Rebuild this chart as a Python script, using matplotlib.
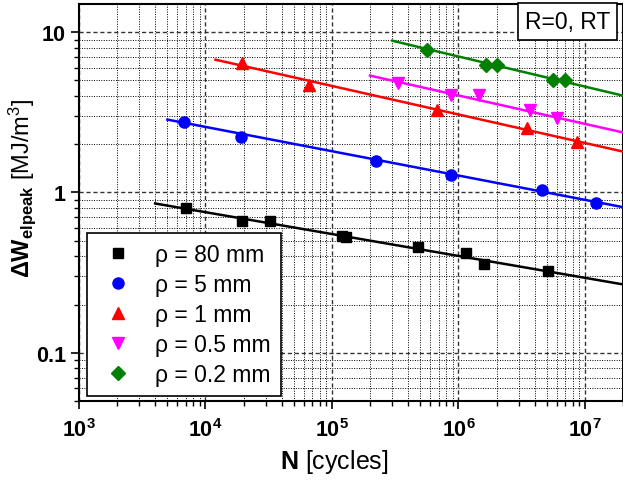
import matplotlib
matplotlib.use("Agg")
import matplotlib.pyplot as plt
from matplotlib.ticker import LogLocator, NullFormatter

plt.rcParams["font.family"] = "Liberation Sans"
plt.rcParams["mathtext.fontset"] = "custom"
plt.rcParams["mathtext.rm"] = "Liberation Sans"
plt.rcParams["mathtext.it"] = "Liberation Sans:italic"
plt.rcParams["mathtext.bf"] = "Liberation Sans:bold"

# --- data (N in cycles, dW in MJ/m^3) ---
labels = ["ρ = 80 mm", "ρ = 5 mm", "ρ = 1 mm", "ρ = 0.5 mm", "ρ = 0.2 mm"]

n_80 = [7.0e3, 1.96e4, 3.24e4, 1.2e5, 1.3e5, 4.8e5, 1.15e6, 1.59e6, 5.07e6]
w_80 = [0.795, 0.66, 0.66, 0.535, 0.53, 0.46, 0.417, 0.356, 0.323]
n_5 = [6.8e3, 1.9e4, 2.24e5, 8.8e5, 4.6e6, 1.23e7]
w_5 = [2.77, 2.23, 1.58, 1.29, 1.04, 0.854]
n_1 = [1.96e4, 6.6e4, 6.8e5, 3.5e6, 8.6e6]
w_1 = [6.45, 4.7, 3.28, 2.53, 2.07]
n_05 = [3.3e5, 8.8e5, 1.45e6, 3.7e6, 6.0e6]
w_05 = [4.85, 4.05, 4.05, 3.25, 2.9]
n_02 = [5.6e5, 1.66e6, 2.0e6, 5.6e6, 6.9e6]
w_02 = [7.78, 6.27, 6.27, 5.06, 5.06]

# fitted power-law lines: (N start, N end), (W start, W end)
fit_n = [(4.0e3, 2.0e7), (5.0e3, 2.0e7), (1.2e4, 2.0e7), (2.0e5, 2.0e7), (3.0e5, 2.0e7)]
fit_w = [(0.854, 0.267), (2.85, 0.81), (6.74, 1.8), (5.36, 2.37), (8.85, 4.02)]

series_n = [n_80, n_5, n_1, n_05, n_02]
series_w = [w_80, w_5, w_1, w_05, w_02]
colors = ["black", "#0000FF", "#FF0000", "#FF00FF", "#008000"]
markers = ["s", "o", "^", "v", "D"]
msizes = [7, 8, 8.5, 8.5, 7]

fig = plt.figure(figsize=(6.23, 4.81), dpi=100)
ax = fig.add_axes([79 / 623, 1 - 402 / 481, 544 / 623, 397 / 481])
ax.set_xscale("log")
ax.set_yscale("log")
ax.set_xlim(1e3, 2e7)
ax.set_ylim(0.05, 15)

for fn, fw, c in zip(fit_n, fit_w, colors):
    ax.plot(fn, fw, color=c, lw=1.8, zorder=3)
for n, w, c, m, s, lab in zip(series_n, series_w, colors, markers, msizes, labels):
    ax.plot(n, w, ls="none", marker=m, ms=s, color=c, mec=c, label=lab, zorder=4)

# grid: dashed at decades, dotted in between
ax.grid(which="major", ls=(0, (3, 2)), color="#333333", lw=1.0)
ax.grid(which="minor", ls=(0, (1, 1.5)), color="black", lw=0.7)
ax.set_axisbelow(True)

ax.xaxis.set_minor_locator(LogLocator(base=10, subs=range(2, 10), numticks=20))
ax.xaxis.set_minor_formatter(NullFormatter())
ax.set_xticks([1e3, 1e4, 1e5, 1e6, 1e7])
ax.set_xticklabels([r"$\mathbf{10^{3}}$", r"$\mathbf{10^{4}}$", r"$\mathbf{10^{5}}$",
                    r"$\mathbf{10^{6}}$", r"$\mathbf{10^{7}}$"])
ax.yaxis.set_minor_locator(LogLocator(base=10, subs=range(2, 10), numticks=20))
ax.yaxis.set_minor_formatter(NullFormatter())
ax.set_yticks([0.1, 1, 10])
ax.set_yticklabels(["0.1", "1", "10"])

for lab in ax.get_xticklabels() + ax.get_yticklabels():
    lab.set_fontweight("bold")
    lab.set_fontsize(15.5)
ax.tick_params(which="major", direction="out", length=6, width=1.2)
ax.tick_params(axis="x", which="major", pad=6)
ax.tick_params(which="minor", direction="out", length=3.5, width=1.0)
ax.tick_params(top=False, right=False)
for sp in ax.spines.values():
    sp.set_linewidth(1.5)

fig.text(334 / 623, 1 - 462 / 481, r"$\mathbf{N}$ [cycles]", ha="center", va="center",
         fontsize=18)
fig.text(22 / 623, 1 - 188 / 481, r"$\mathbf{\Delta W_{elpeak}}$ [MJ/m$^{3}$]",
         ha="center", va="center", rotation=90, fontsize=17)

leg = ax.legend(loc="lower left", bbox_to_anchor=(0.0147, 0.0126), borderaxespad=0,
                fontsize=16.5, frameon=True, fancybox=False, handletextpad=0.7,
                labelspacing=0.3, borderpad=0.45, handlelength=1.8, framealpha=1)
leg.get_frame().set_edgecolor("black")
leg.get_frame().set_linewidth(1.2)

ax.text(0.976, 0.985, "R=0, RT", transform=ax.transAxes, ha="right", va="top",
        fontsize=16.5, zorder=6,
        bbox=dict(boxstyle="square,pad=0.3", fc="white", ec="black", lw=1.2))

fig.savefig("out.png", dpi=100)
